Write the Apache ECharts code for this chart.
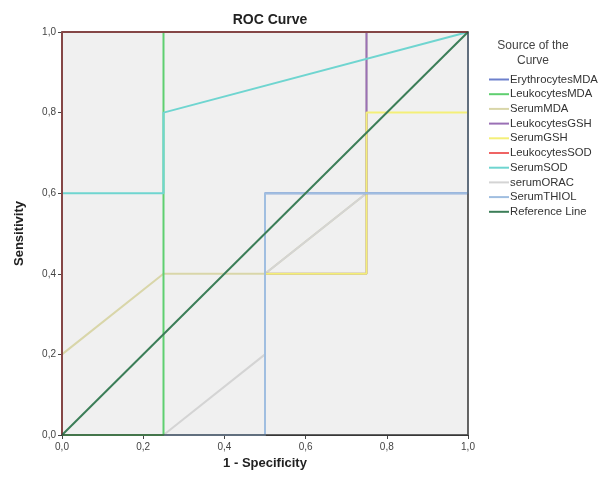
<!DOCTYPE html>
<html><head><meta charset="utf-8">
<script src="https://cdn.jsdelivr.net/npm/echarts@6/dist/echarts.min.js"></script>
<style>html,body{margin:0;padding:0;background:#fff}#c{width:599px;height:483px}</style>
</head><body><div id="c"></div>
<script>
const seriesNames = ["ErythrocytesMDA","LeukocytesMDA","SerumMDA","LeukocytesGSH","SerumGSH","LeukocytesSOD","SerumSOD","serumORAC","SerumTHIOL","Reference Line"];
const ErythrocytesMDA = [[0,0],[0.5,0],[0.5,0.6],[1,0.6],[1,1]];
const LeukocytesMDA = [[0,0],[0.25,0],[0.25,1],[1,1]];
const SerumMDA = [[0,0],[0,0.2],[0.25,0.4],[0.5,0.4],[0.75,0.6],[0.75,1],[1,1]];
const LeukocytesGSH = [[0,0],[0.5,0],[0.5,0.4],[0.75,0.4],[0.75,1],[1,1]];
const SerumGSH = [[0,0],[0.5,0],[0.5,0.4],[0.75,0.4],[0.75,0.8],[1,0.8],[1,1]];
const LeukocytesSOD = [[0,0],[0,1],[1,1]];
const SerumSOD = [[0,0],[0,0.6],[0.25,0.6],[0.25,0.8],[1,1]];
const serumORAC = [[0,0],[0.25,0],[0.5,0.2],[0.5,0.4],[0.75,0.6],[0.75,1],[1,1]];
const SerumTHIOL = [[0,0],[0.5,0],[0.5,0.6],[1,0.6],[1,1]];
const ReferenceLine = [[0,0],[1,1]];
const seriesData = [ErythrocytesMDA,LeukocytesMDA,SerumMDA,LeukocytesGSH,SerumGSH,LeukocytesSOD,SerumSOD,serumORAC,SerumTHIOL,ReferenceLine];
const colors = ["#6d80cc","#5fcf70","#d9d6a9","#9a70b5","#f4ef78","#ef6464","#6fd5d0","#d4d4d4","#a0bee0","#3c7e58"];
const drawOrder = [6,8,2,4,5,10,9,3,7,11];

const chart = echarts.init(document.getElementById('c'));
const fmt = v => v.toFixed(1).replace('.', ',');
chart.setOption({
  animation:false,
  backgroundColor:'#fff',
  title:{text:'ROC Curve', left:265, top:8, textAlign:'center',
    textStyle:{fontFamily:'Liberation Sans', fontSize:14, fontWeight:'bold', color:'#222'}},
  graphic:[
    {type:'text', style:{text:'Source of the\nCurve', fill:'#444', font:'12px "Liberation Sans"', textAlign:'center', lineHeight:15, x:533, y:38}},
    {type:'rect', shape:{x:62, y:32, width:406, height:403}, style:{fill:'none', stroke:'rgba(45,45,45,0.55)', lineWidth:2}, z:100}
  ],
  legend:{orient:'vertical', left:484, top:69, itemWidth:20, itemHeight:2, itemGap:3.7, icon:'rect',
    textStyle:{fontFamily:'Liberation Sans', fontSize:11.3, color:'#333', padding:[0,0,0,-4]},
    data:seriesNames},
  grid:{left:62, top:32, width:406, height:403, show:true, backgroundColor:'#f0f0f0', borderColor:'#555', borderWidth:1},
  xAxis:{type:'value', min:0, max:1, interval:0.2, name:'1 - Specificity', nameLocation:'middle', nameGap:22,
    nameTextStyle:{fontFamily:'Liberation Sans', fontSize:13, fontWeight:'bold', color:'#222'},
    axisLine:{show:true, lineStyle:{color:'#444'}}, axisTick:{show:true, length:4, lineStyle:{color:'#444'}},
    splitLine:{show:false},
    axisLabel:{formatter:fmt, fontFamily:'Liberation Sans', fontSize:10, color:'#444', margin:7}},
  yAxis:{type:'value', min:0, max:1, interval:0.2, name:'Sensitivity', nameLocation:'middle', nameGap:36,
    nameTextStyle:{fontFamily:'Liberation Sans', fontSize:13, fontWeight:'bold', color:'#222'},
    axisLine:{show:true, lineStyle:{color:'#444'}}, axisTick:{show:true, length:4, lineStyle:{color:'#444'}},
    splitLine:{show:false},
    axisLabel:{formatter:fmt, fontFamily:'Liberation Sans', fontSize:10, color:'#444', margin:6}},
  series: seriesNames.map((n,i)=>({name:n, type:'line', data:seriesData[i], symbol:'none', smooth:false,
    color:colors[i], lineStyle:{width:2, color:colors[i]}, z:drawOrder[i]}))
});
</script></body></html>
